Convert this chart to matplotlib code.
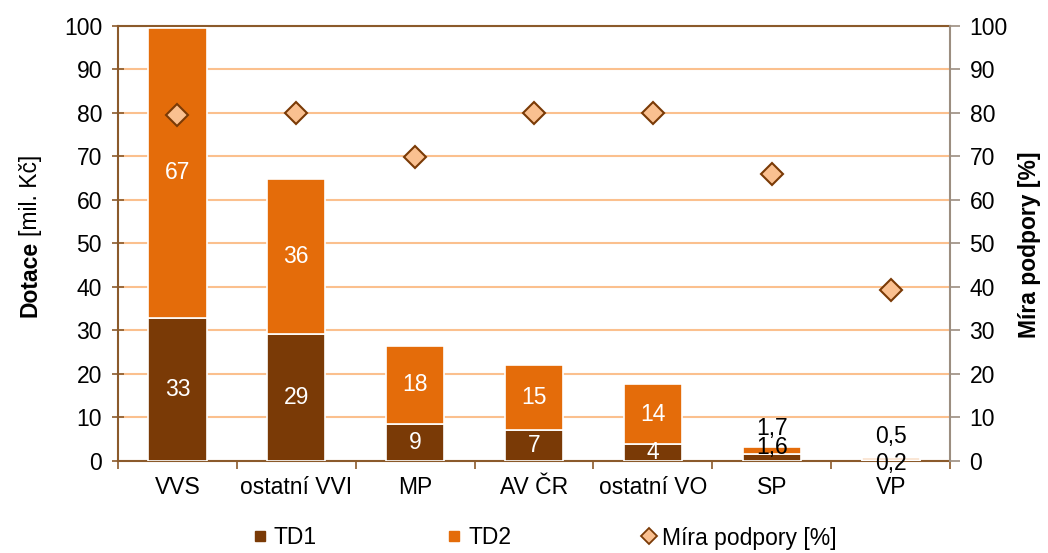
import numpy as np
import matplotlib
matplotlib.use('Agg')
import matplotlib.pyplot as plt
from matplotlib.lines import Line2D

# data
categories = ['VVS', 'ostatní VVI', 'MP', 'AV ČR', 'ostatní VO', 'SP', 'VP']
td1 = [32.9, 29.1, 8.6, 7.2, 4.0, 1.6, 0.2]
td2 = [66.7, 35.8, 17.8, 14.9, 13.6, 1.7, 0.5]
mira_podpory = [79.5, 80.0, 69.8, 80.0, 80.0, 66.0, 39.4]

C_TD1 = '#7a3a06'
C_TD2 = '#e46c0a'
C_GRID = '#fbc08e'
C_SPINE = '#8b5a2b'
C_RSPINE = '#9c8e80'
C_DIA = '#fac090'
C_DIA_EDGE = '#7a3a06'

plt.rcParams['font.family'] = ['Liberation Sans', 'DejaVu Sans']
FS = 16.5


def fmt(v):
    if v < 2:
        return f'{v:.1f}'.replace('.', ',')
    return f'{v:.0f}'


def main():
    fig = plt.figure(figsize=(10.48, 5.53), dpi=100)
    ax = fig.add_axes([0.1126, 0.1664, 0.794, 0.7866])
    ax2 = ax.twinx()

    x = np.arange(len(categories))
    w = 0.49
    ax.bar(x, td1, w, color=C_TD1, edgecolor='white', linewidth=1.2, zorder=3)
    ax.bar(x, td2, w, bottom=td1, color=C_TD2, edgecolor='white', linewidth=1.2, zorder=3)

    # data labels (small segments get pushed up / black text like in Excel)
    small_off1 = {'SP': 10, 'VP': -2.5}
    small_off2 = {'SP': 22, 'VP': 23}
    for i, cat in enumerate(categories):
        a, b = td1[i], td2[i]
        if cat in small_off1:
            ax.annotate(fmt(a), (i, a / 2), xytext=(0, small_off1[cat] * 0.72),
                        textcoords='offset points', ha='center', va='center',
                        fontsize=FS, color='black', zorder=5)
            ax.annotate(fmt(b), (i, a + b / 2), xytext=(0, small_off2[cat] * 0.72),
                        textcoords='offset points', ha='center', va='center',
                        fontsize=FS, color='black', zorder=5)
        else:
            ax.text(i, a / 2, fmt(a), ha='center', va='center', fontsize=FS,
                    color='white', zorder=5)
            ax.text(i, a + b / 2, fmt(b), ha='center', va='center', fontsize=FS,
                    color='white', zorder=5)

    ax2.plot(x, mira_podpory, linestyle='none', marker='D', markersize=11.5,
             markerfacecolor=C_DIA, markeredgecolor=C_DIA_EDGE,
             markeredgewidth=1.5, zorder=6)

    for a in (ax, ax2):
        a.set_ylim(0, 100)
        a.set_yticks(range(0, 101, 10))
    ax.set_xlim(-0.5, len(categories) - 0.5)

    ax.yaxis.grid(True, color=C_GRID, linewidth=1.5, zorder=0)
    ax.set_axisbelow(True)

    ax.set_xticks(x)
    ax.set_xticklabels(categories, fontsize=FS)
    ax.set_xticks(np.arange(-0.5, len(categories), 1), minor=True)
    ax.tick_params(axis='x', which='major', length=0, pad=11)
    ax.tick_params(axis='x', which='minor', length=6, width=1.2, color=C_SPINE,
                   direction='out')
    ax.tick_params(axis='y', labelsize=FS, direction='inout', length=9,
                   width=1.2, color=C_SPINE, pad=7)
    ax2.tick_params(axis='y', labelsize=FS, direction='out', length=7,
                    width=1.2, color=C_RSPINE, pad=7)

    for s in ('left', 'bottom', 'top'):
        ax.spines[s].set_color(C_SPINE)
        ax.spines[s].set_linewidth(1.5)
    ax.spines['right'].set_visible(False)
    for s in ('left', 'bottom', 'top'):
        ax2.spines[s].set_visible(False)
    ax2.spines['right'].set_color(C_RSPINE)
    ax2.spines['right'].set_linewidth(1.5)
    ax.set_zorder(ax2.get_zorder() - 1)
    ax2.patch.set_visible(False)

    # left axis title: bold "Dotace" followed by normal "[mil. Kč]"
    t1 = fig.text(0.029, 1 - 317 / 553, 'Dotace', rotation=90, ha='center',
                  va='bottom', fontsize=FS, fontweight='bold')
    fig.canvas.draw()
    bb = t1.get_window_extent()
    y_next = (bb.y1 + 5) / fig.bbox.height
    fig.text(0.029, y_next, '[mil. Kč]', rotation=90, ha='center',
             va='bottom', fontsize=FS)
    fig.text(0.982, 1 - 245 / 553, 'Míra podpory [%]', rotation=90, ha='center',
             va='center', fontsize=FS, fontweight='bold')

    handles = [
        Line2D([], [], linestyle='none', marker='s', markersize=7,
               markerfacecolor=C_TD1, markeredgecolor=C_TD1),
        Line2D([], [], linestyle='none', marker='s', markersize=7,
               markerfacecolor=C_TD2, markeredgecolor=C_TD2),
        Line2D([], [], linestyle='none', marker='D', markersize=8,
               markerfacecolor=C_DIA, markeredgecolor=C_DIA_EDGE,
               markeredgewidth=1.3),
    ]
    fig.legend(handles, ['TD1', 'TD2', 'Míra podpory [%]'], ncol=3,
               loc='center', bbox_to_anchor=(0.52, 1 - 538 / 553),
               frameon=False, fontsize=FS, handlelength=0.6,
               handletextpad=0.3, columnspacing=5.7)

    plt.savefig('out.png', dpi=100)


if __name__ == '__main__':
    main()
